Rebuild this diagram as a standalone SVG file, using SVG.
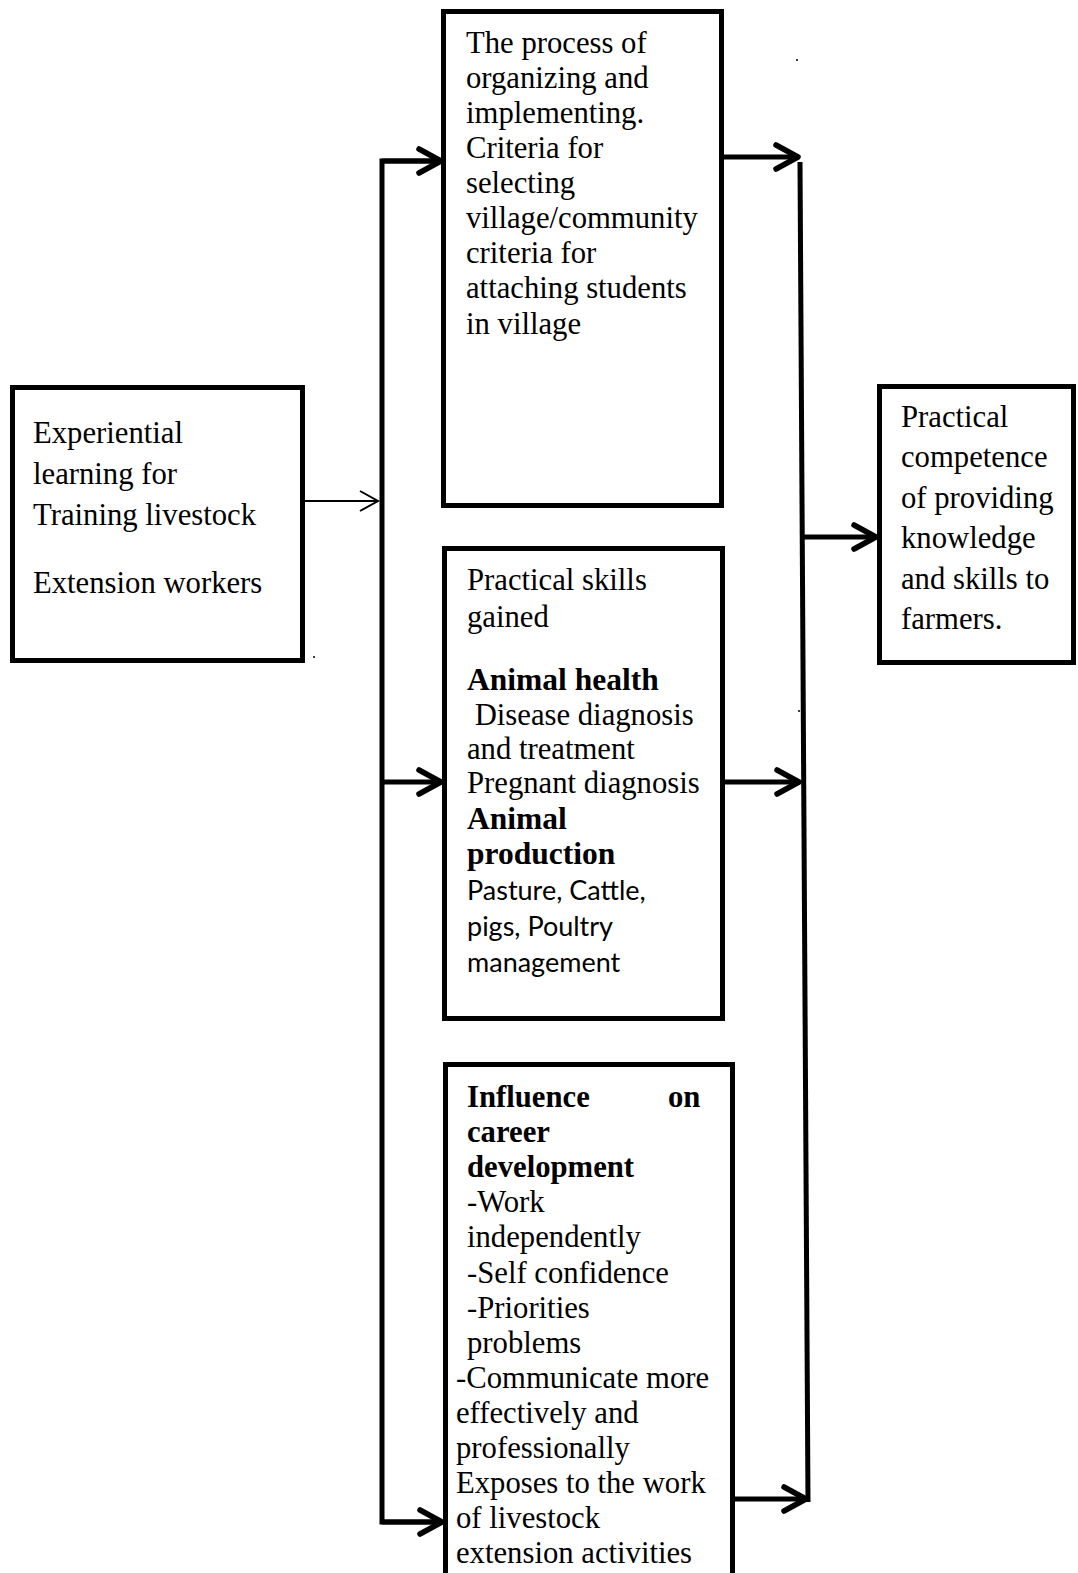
<svg xmlns="http://www.w3.org/2000/svg" width="1078" height="1573" viewBox="0 0 1078 1573">
<style>
  .box { fill: #fff; stroke: #000; stroke-width: 5; }
  .t { font-family: "Liberation Serif", "Times New Roman", serif; font-size: 30.7px; fill: #000; }
  .b { font-weight: bold; }
  .s { font-family: Lato, "Open Sans", sans-serif; font-size: 27px; }
  .line { fill: none; stroke: #000; stroke-width: 5; }
  .thin { fill: none; stroke: #000; stroke-width: 2; }
</style>
<defs>
  <marker id="head" markerUnits="userSpaceOnUse" viewBox="0 0 26 26" markerWidth="26" markerHeight="26" refX="23" refY="13" orient="auto" overflow="visible">
    <path d="M1,1 L23,13 L1,25" fill="none" stroke="#000" stroke-width="5.5" stroke-linecap="round" stroke-linejoin="round"/>
  </marker>
  <marker id="thinhead" markerUnits="userSpaceOnUse" viewBox="0 0 20 22" markerWidth="20" markerHeight="22" refX="18" refY="11" orient="auto" overflow="visible">
    <path d="M0,1 L18,11 L0,21" fill="none" stroke="#000" stroke-width="2"/>
  </marker>
</defs>
<rect width="1078" height="1573" fill="#fff"/>

<g id="connectors">
  <line class="thin" x1="305" y1="501" x2="378" y2="501" marker-end="url(#thinhead)"/>
  <polyline class="line" points="441,161 382,161 382,1522 441,1522" stroke-linejoin="miter"/>
  <line class="line" x1="382" y1="161" x2="441" y2="161" marker-end="url(#head)"/>
  <line class="line" x1="382" y1="782" x2="441" y2="782" marker-end="url(#head)"/>
  <line class="line" x1="382" y1="1522" x2="442" y2="1522" marker-end="url(#head)"/>
  <line class="line" x1="722" y1="157" x2="798" y2="157" marker-end="url(#head)"/>
  <line class="line" x1="722" y1="782" x2="799" y2="782" marker-end="url(#head)"/>
  <line class="line" x1="732" y1="1499" x2="806" y2="1499" marker-end="url(#head)"/>
  <line class="line" x1="800" y1="162" x2="808" y2="1502"/>
  <line class="line" x1="803" y1="537" x2="876" y2="537" marker-end="url(#head)"/>
</g>

<g id="dots" fill="#000">
  <circle cx="797" cy="60" r="1"/>
  <circle cx="314" cy="657" r="1"/>
  <circle cx="799" cy="711" r="1"/>
</g>

<g id="node-experiential">
  <rect class="box" x="12.5" y="387.5" width="290" height="273"/>
  <text class="t" x="33" y="443">Experiential</text>
  <text class="t" x="33" y="484">learning for</text>
  <text class="t" x="33" y="525">Training livestock</text>
  <text class="t" x="33" y="593">Extension workers</text>
</g>

<g id="node-process">
  <rect class="box" x="443.5" y="11.5" width="278" height="494"/>
  <text class="t">
    <tspan x="466" y="53">The process of</tspan>
    <tspan x="466" y="88">organizing and</tspan>
    <tspan x="466" y="123">implementing.</tspan>
    <tspan x="466" y="158">Criteria for</tspan>
    <tspan x="466" y="193">selecting</tspan>
    <tspan x="466" y="228">village/community</tspan>
    <tspan x="466" y="263">criteria for</tspan>
    <tspan x="466" y="298">attaching students</tspan>
    <tspan x="466" y="334">in village</tspan>
  </text>
</g>

<g id="node-skills">
  <rect class="box" x="444.5" y="548.5" width="278" height="470"/>
  <text class="t">
    <tspan x="467" y="590">Practical skills</tspan>
    <tspan x="467" y="627">gained</tspan>
    <tspan x="467" y="690" class="b" font-size="31.5">Animal health</tspan>
    <tspan x="467" y="725" xml:space="preserve"> Disease diagnosis</tspan>
    <tspan x="467" y="759">and treatment</tspan>
    <tspan x="467" y="793">Pregnant diagnosis</tspan>
    <tspan x="467" y="829" class="b" font-size="31.5">Animal</tspan>
    <tspan x="467" y="864" class="b" font-size="31.5">production</tspan>
  </text>
  <text class="t s">
    <tspan x="467" y="900">Pasture, Cattle,</tspan>
    <tspan x="467" y="936">pigs, Poultry</tspan>
    <tspan x="467" y="972">management</tspan>
  </text>
</g>

<g id="node-career">
  <path class="box" d="M445.5,1580 L445.5,1064.5 L732.5,1064.5 L732.5,1580"/>
  <text class="t">
    <tspan x="467" y="1107" class="b">Influence</tspan>
    <tspan x="708" y="1107" class="b" text-anchor="end">on</tspan>
    <tspan x="467" y="1142" class="b">career</tspan>
    <tspan x="467" y="1177" class="b">development</tspan>
    <tspan x="467" y="1212">-Work</tspan>
    <tspan x="467" y="1247">independently</tspan>
    <tspan x="467" y="1283">-Self confidence</tspan>
    <tspan x="467" y="1318">-Priorities</tspan>
    <tspan x="467" y="1353">problems</tspan>
    <tspan x="456" y="1388">-Communicate more</tspan>
    <tspan x="456" y="1423">effectively and</tspan>
    <tspan x="456" y="1458">professionally</tspan>
    <tspan x="456" y="1493">Exposes to the work</tspan>
    <tspan x="456" y="1528">of livestock</tspan>
    <tspan x="456" y="1563">extension activities</tspan>
  </text>
</g>

<g id="node-competence">
  <rect class="box" x="879.5" y="386.5" width="194" height="276"/>
  <text class="t">
    <tspan x="901" y="427">Practical</tspan>
    <tspan x="901" y="467">competence</tspan>
    <tspan x="901" y="508">of providing</tspan>
    <tspan x="901" y="548">knowledge</tspan>
    <tspan x="901" y="589">and skills to</tspan>
    <tspan x="901" y="629">farmers.</tspan>
  </text>
</g>
</svg>
